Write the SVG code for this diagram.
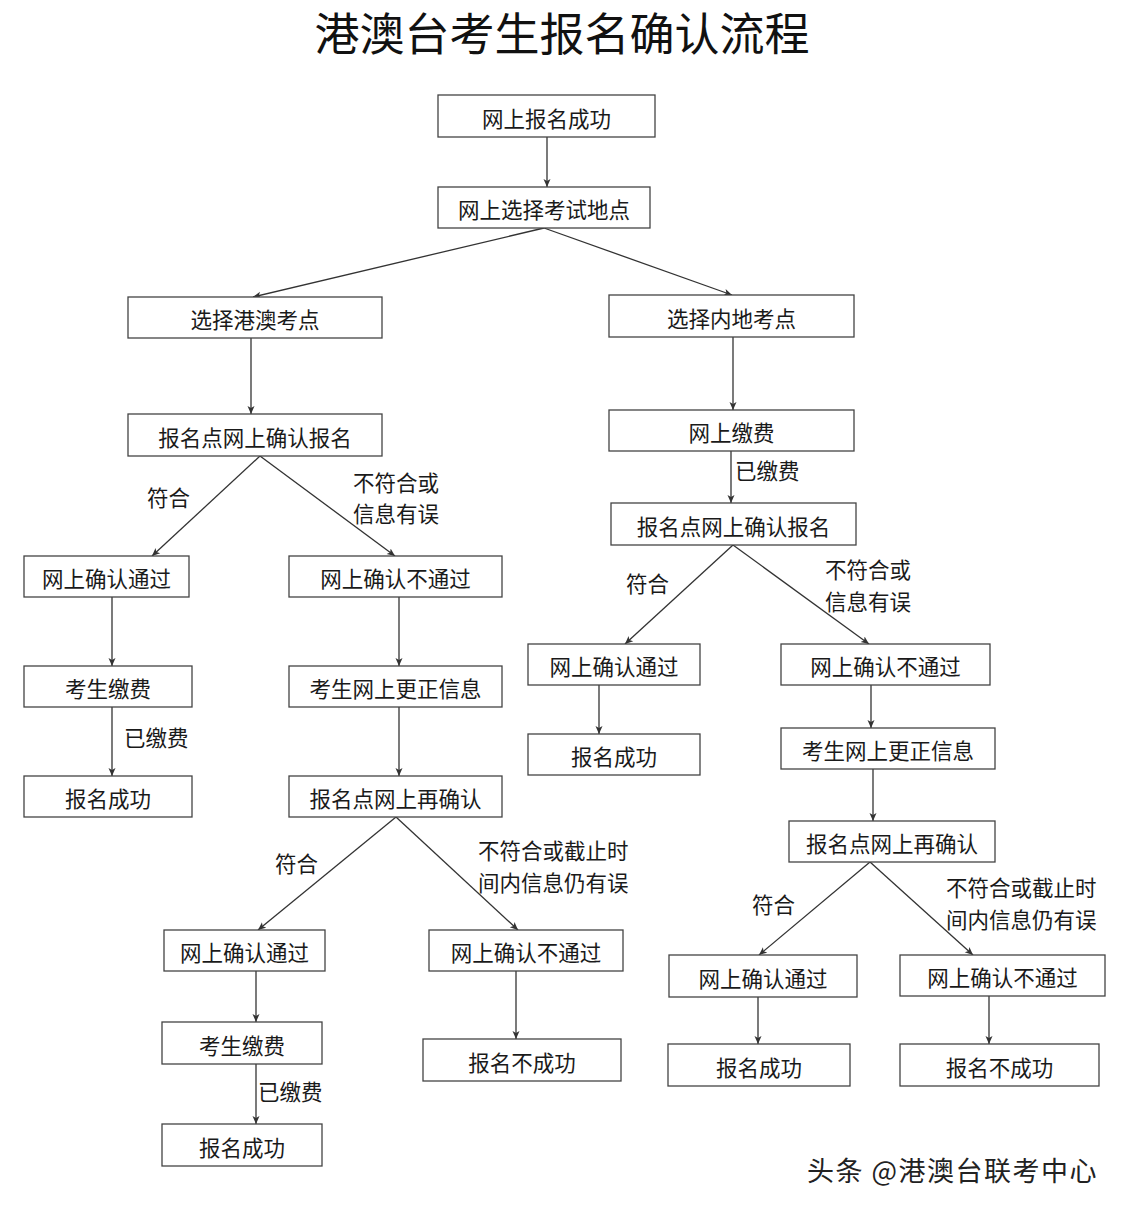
<svg xmlns="http://www.w3.org/2000/svg" width="1125" height="1210" viewBox="0 0 1125 1210">
<style>
.box{fill:#fff;stroke:#444;stroke-width:1.3}
.t{font-family:"Noto Sans CJK SC","Noto Sans",sans-serif;font-size:21.5px;fill:#1a1a1a;text-anchor:middle;dominant-baseline:central}
.lbl{font-family:"Noto Sans CJK SC","Noto Sans",sans-serif;font-size:21.5px;fill:#1a1a1a;dominant-baseline:central}
.c{fill:none;stroke:#333;stroke-width:1.3;marker-end:url(#ah)}
.title{font-family:"Noto Sans CJK SC","Noto Sans",sans-serif;font-size:45px;fill:#111;text-anchor:middle;dominant-baseline:central}
.wm{font-family:"Noto Sans CJK SC","Noto Sans",sans-serif;font-size:27px;fill:#222;stroke:#fff;stroke-width:2;paint-order:stroke;dominant-baseline:central;letter-spacing:1.5px}
</style>
<defs>
<marker id="ah" markerUnits="userSpaceOnUse" markerWidth="9" markerHeight="8" refX="8" refY="4" orient="auto">
<path d="M0,0.5 L8,4 L0,7.5 L2,4 z" fill="#333"/>
</marker>
</defs>
<rect width="1125" height="1210" fill="#fff"/>
<text class="title" x="562" y="31">港澳台考生报名确认流程</text>

<g id="connectors">
<line class="c" x1="547" y1="137" x2="547" y2="187"/>
<line class="c" x1="544" y1="228" x2="253" y2="297"/>
<line class="c" x1="544" y1="228" x2="732" y2="295"/>
<line class="c" x1="251" y1="338" x2="251" y2="414"/>
<line class="c" x1="260" y1="456" x2="152" y2="556"/>
<line class="c" x1="260" y1="456" x2="395" y2="556"/>
<line class="c" x1="112" y1="597" x2="112" y2="666"/>
<line class="c" x1="399" y1="597" x2="399" y2="666"/>
<line class="c" x1="112" y1="707" x2="112" y2="776"/>
<line class="c" x1="399" y1="707" x2="399" y2="776"/>
<line class="c" x1="396" y1="817" x2="258" y2="930"/>
<line class="c" x1="396" y1="817" x2="518" y2="930"/>
<line class="c" x1="256" y1="971" x2="256" y2="1022"/>
<line class="c" x1="516" y1="971" x2="516" y2="1039"/>
<line class="c" x1="256" y1="1064" x2="256" y2="1124"/>
<line class="c" x1="733" y1="337" x2="733" y2="410"/>
<line class="c" x1="731" y1="451" x2="731" y2="503"/>
<line class="c" x1="733" y1="545" x2="625" y2="644"/>
<line class="c" x1="733" y1="545" x2="869" y2="644"/>
<line class="c" x1="599" y1="685" x2="599" y2="734"/>
<line class="c" x1="871" y1="685" x2="871" y2="728"/>
<line class="c" x1="873" y1="769" x2="873" y2="821"/>
<line class="c" x1="870" y1="862" x2="759" y2="955"/>
<line class="c" x1="870" y1="862" x2="973" y2="955"/>
<line class="c" x1="758" y1="997" x2="758" y2="1044"/>
<line class="c" x1="989" y1="996" x2="989" y2="1044"/>
<text class="lbl" x="147" y="496">符合</text>
<text class="lbl" x="353" y="481">不符合或</text>
<text class="lbl" x="353" y="512">信息有误</text>
<text class="lbl" x="124" y="736">已缴费</text>
<text class="lbl" x="275" y="862">符合</text>
<text class="lbl" x="478" y="849">不符合或截止时</text>
<text class="lbl" x="478" y="881">间内信息仍有误</text>
<text class="lbl" x="258" y="1090">已缴费</text>
<text class="lbl" x="735" y="469">已缴费</text>
<text class="lbl" x="626" y="582">符合</text>
<text class="lbl" x="825" y="568">不符合或</text>
<text class="lbl" x="825" y="600">信息有误</text>
<text class="lbl" x="752" y="903">符合</text>
<text class="lbl" x="946" y="886">不符合或截止时</text>
<text class="lbl" x="946" y="918">间内信息仍有误</text>
</g>

<g id="n1"><rect class="box" x="438" y="95" width="217" height="42"/><text class="t" x="546.5" y="117">网上报名成功</text></g>
<g id="n2"><rect class="box" x="438" y="187" width="212" height="41"/><text class="t" x="544" y="208.5">网上选择考试地点</text></g>
<g id="n3"><rect class="box" x="128" y="297" width="254" height="41"/><text class="t" x="255" y="318.5">选择港澳考点</text></g>
<g id="n4"><rect class="box" x="609" y="295" width="245" height="42"/><text class="t" x="731.5" y="317">选择内地考点</text></g>
<g id="n5"><rect class="box" x="128" y="414" width="254" height="42"/><text class="t" x="255" y="436">报名点网上确认报名</text></g>
<g id="n6"><rect class="box" x="609" y="410" width="245" height="41"/><text class="t" x="731.5" y="431.5">网上缴费</text></g>
<g id="n7"><rect class="box" x="611" y="503" width="245" height="42"/><text class="t" x="733.5" y="525">报名点网上确认报名</text></g>
<g id="n8"><rect class="box" x="24" y="556" width="165" height="41"/><text class="t" x="106.5" y="577.5">网上确认通过</text></g>
<g id="n9"><rect class="box" x="289" y="556" width="213" height="41"/><text class="t" x="395.5" y="577.5">网上确认不通过</text></g>
<g id="n10"><rect class="box" x="24" y="666" width="168" height="41"/><text class="t" x="108" y="687.5">考生缴费</text></g>
<g id="n11"><rect class="box" x="289" y="666" width="213" height="41"/><text class="t" x="395.5" y="687.5">考生网上更正信息</text></g>
<g id="n12"><rect class="box" x="24" y="776" width="168" height="41"/><text class="t" x="108" y="797.5">报名成功</text></g>
<g id="n13"><rect class="box" x="289" y="776" width="213" height="41"/><text class="t" x="395.5" y="797.5">报名点网上再确认</text></g>
<g id="n14"><rect class="box" x="164" y="930" width="161" height="41"/><text class="t" x="244.5" y="951.5">网上确认通过</text></g>
<g id="n15"><rect class="box" x="429" y="930" width="194" height="41"/><text class="t" x="526" y="951.5">网上确认不通过</text></g>
<g id="n16"><rect class="box" x="162" y="1022" width="160" height="42"/><text class="t" x="242" y="1044">考生缴费</text></g>
<g id="n17"><rect class="box" x="423" y="1039" width="198" height="42"/><text class="t" x="522" y="1061">报名不成功</text></g>
<g id="n18"><rect class="box" x="162" y="1124" width="160" height="42"/><text class="t" x="242" y="1146">报名成功</text></g>
<g id="n19"><rect class="box" x="528" y="644" width="172" height="41"/><text class="t" x="614" y="665.5">网上确认通过</text></g>
<g id="n20"><rect class="box" x="781" y="644" width="209" height="41"/><text class="t" x="885.5" y="665.5">网上确认不通过</text></g>
<g id="n21"><rect class="box" x="528" y="734" width="172" height="41"/><text class="t" x="614" y="755.5">报名成功</text></g>
<g id="n22"><rect class="box" x="781" y="728" width="214" height="41"/><text class="t" x="888" y="749.5">考生网上更正信息</text></g>
<g id="n23"><rect class="box" x="789" y="821" width="206" height="41"/><text class="t" x="892" y="842.5">报名点网上再确认</text></g>
<g id="n24"><rect class="box" x="669" y="955" width="188" height="42"/><text class="t" x="763" y="977">网上确认通过</text></g>
<g id="n25"><rect class="box" x="900" y="955" width="205" height="41"/><text class="t" x="1002.5" y="976.5">网上确认不通过</text></g>
<g id="n26"><rect class="box" x="668" y="1044" width="182" height="42"/><text class="t" x="759" y="1066">报名成功</text></g>
<g id="n27"><rect class="box" x="900" y="1044" width="199" height="42"/><text class="t" x="999.5" y="1066">报名不成功</text></g>

<text class="wm" x="807" y="1169">头条 @港澳台联考中心</text>
</svg>
